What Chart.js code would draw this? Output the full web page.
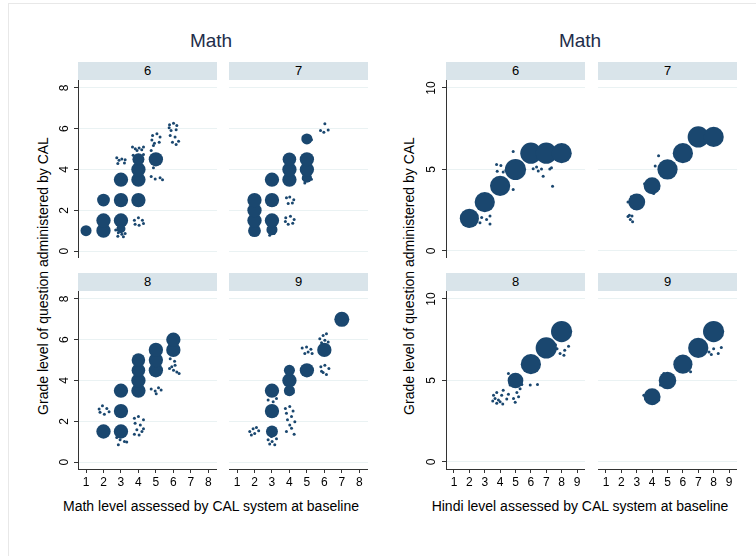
<!DOCTYPE html>
<html>
<head>
<meta charset="utf-8">
<script src="https://cdn.jsdelivr.net/npm/chart.js@4.4.1/dist/chart.umd.min.js"></script>
<style>
  body { margin: 0; background: #fff; font-family: "Liberation Sans", Arial, sans-serif; }
  #page { position: relative; width: 756px; height: 556px; overflow: hidden; }
  #frame { position: absolute; left: 8px; top: 3px; width: 800px; height: 600px; border: 1px solid #e8e8e8; }
  .title { position: absolute; font-size: 19px; color: #1e2d4a; transform: translate(-50%, -50%); white-space: nowrap; }
  .strip { position: absolute; background: #d9e4ea; height: 18px; line-height: 18px; text-align: center; font-size: 13px; color: #000; }
  .xt { position: absolute; font-size: 14px; color: #000; transform: translate(-50%, -50%); white-space: nowrap; }
  .yt { position: absolute; font-size: 14px; color: #000; transform: translate(-50%, -50%) rotate(-90deg); white-space: nowrap; }
  canvas { position: absolute; }
</style>
</head>
<body>
<div id="page"><div id="frame"></div></div>
<script>
// facets = grade of the student
const grades = ['6', '7', '8', '9'];

const mathXTicks = [1, 2, 3, 4, 5, 6, 7, 8];
const mathYTicks = [0, 2, 4, 6, 8];
const hindiXTicks = [1, 2, 3, 4, 5, 6, 7, 8, 9];
const hindiYTicks = [0, 5, 10];

// big markers: [baseline level, question grade, number of obs]
// small markers: [baseline level, question grade] (jittered obs)
const mathG6Big = [[1,1,12],[2,1,20],[2,1.5,20],[2,2.5,16],[3,1.5,20],[3,1.1,8],[3,2.5,20],[3,3.5,20],
  [4,2.5,20],[4,3.5,20],[4,4,20],[4,4.5,14],[5,4.5,20]];
const mathG6Small = [[2.76,4.58],[2.89,4.45],[3.05,4.52],[3.24,4.48],[3.2,4.32],[2.82,4.3],
  [3.66,5.1],[3.82,5.02],[4.04,5.05],[4.19,4.97],[3.92,4.93],[4.29,5.1],[3.7,4.7],[4.29,4.74],
  [4.81,5.67],[5.06,5.75],[5.24,5.59],[5.19,5.34],[4.92,5.29],[4.77,5.45],[4.86,5.18],[4.73,4.93],
  [4.73,3.66],[4.96,3.53],[5.24,3.6],[5.38,3.5],[4.86,4.09],
  [5.78,6.2],[6.01,6.27],[6.2,6.16],[6.16,5.95],[5.87,5.91],[5.76,6.05],
  [5.82,5.67],[6.1,5.59],[6.3,5.39],[5.95,5.34],[6.16,5.23],
  [3.77,1.51],[4.0,1.63],[4.23,1.51],[4.29,1.35],[4.04,1.27],[3.81,1.32],
  [2.7,1.03],[2.85,0.9],[3.05,0.83],[3.24,0.86],[2.82,0.73],[3.14,0.7]];

const mathG7Big = [[2,1,16],[2,1.5,20],[2,2,20],[2,2.5,20],[3,1.05,12],[3,1.5,20],[3,2.5,20],[3,3.5,20],
  [4,3.5,20],[4,4,20],[4,4.5,18],[5,3.6,10],[5,4,20],[5,4.5,20],[5,5.5,12]];
const mathG7Small = [[3.83,2.62],[4.02,2.65],[4.25,2.52],[4.17,2.36],[3.93,2.33],
  [3.79,1.64],[4.06,1.71],[4.27,1.55],[4.19,1.36],[3.93,1.32],[3.77,1.45],
  [4.79,3.55],[5.03,3.47],[5.26,3.52],[4.88,3.34],
  [6.03,6.24],[5.78,5.91],[5.97,5.83],[6.22,5.94],
  [1.82,0.83],[2.11,0.86],[2.87,0.78],[3.12,0.86],[4.79,5.59],[5.26,5.46]];

const mathG8Big = [[2,1.5,20],[3,1.5,20],[3,2.5,20],[3,3.5,20],[4,3.5,20],[4,4,20],[4,4.5,18],[4,5,18],
  [5,4.5,20],[5,5,20],[5,5.5,20],[6,5.5,20],[6,6,20]];
const mathG8Small = [[1.75,2.6],[1.94,2.76],[2.19,2.63],[2.32,2.47],[2.05,2.34],[1.8,2.44],
  [2.76,1.2],[2.95,1.09],[3.2,1.01],[2.85,0.85],[3.33,0.98],[3.05,1.3],
  [3.77,2.15],[4.0,2.23],[4.29,2.07],[3.81,1.9],[4.11,1.82],[3.91,1.58],[4.2,1.5],[3.77,1.37],[4.04,1.33],[4.29,1.63],
  [4.73,3.58],[4.96,3.48],[5.15,3.64],[5.3,3.53],[5.02,3.35],
  [5.82,5.07],[6.07,4.94],[5.91,4.67],[6.1,4.75],[5.78,4.59],[6.2,4.42],[6.33,4.34],[6.01,4.5]];

const mathG9Big = [[7,7,22],[6,5.5,20],[5,4.5,20],[4,4,20],[4,4.5,12],[4,3.5,12],[3,3.5,20],[3,2.5,20],[3,1.5,14]];
const mathG9Small = [[1.73,1.5],[1.92,1.63],[2.11,1.69],[2.24,1.53],[1.82,1.33],[2.01,1.4],
  [2.78,1.09],[3.01,1.01],[3.16,0.85],[2.87,0.88],[3.26,1.14],[2.97,1.25],
  [2.78,3.04],[3.07,2.96],[3.26,3.12],
  [3.77,2.63],[4.02,2.72],[4.21,2.5],[3.83,2.39],[4.12,2.23],[3.89,2.07],[4.31,1.98],[4.02,1.82],[3.83,1.5],[4.27,1.37],[4.12,1.66],
  [3.83,3.37],[4.21,3.41],
  [4.73,5.59],[4.98,5.64],[5.23,5.53],[5.3,5.32],[4.88,5.32],[5.07,5.4],
  [5.8,4.67],[6.03,4.75],[6.26,4.59],[5.93,4.39],[6.12,4.29],[5.84,4.46],
  [5.74,6.05],[5.93,6.21],[6.12,6.29],[6.03,5.97],[5.84,5.85],[6.22,5.89]];

const hindiG6Big = [[2,2,36],[3,3,40],[4,4,40],[5,5,44],[6,6,44],[7,6,44],[8,6,40]];
const hindiG6Small = [[4.85,6.11],[3.77,5.3],[4.05,5.25],[3.81,4.89],[4.2,4.85],[4.38,4.95],[4.85,3.77],
  [2.8,2.06],[3.12,1.93],[3.34,2.14],[3.34,1.65],[2.69,1.73],
  [6.15,5.05],[6.37,5.15],[6.48,4.91],[6.69,5.03],[6.8,4.58],[7.23,5.03],[7.34,5.11],[7.41,3.97],
  [1.93,1.53],[2.15,1.65]];

const hindiG7Big = [[3,3,28],[4,4,28],[5,5,40],[6,6,40],[7,7,44],[8,7,40]];
const hindiG7Small = [[4.42,5.85],[4.2,5.21],
  [2.43,2.12],[2.58,1.93],[2.69,2.14],[2.73,1.79],[2.52,2.2],
  [2.43,3.01],[3.34,2.87],[2.86,2.61],[3.12,3.28],[2.65,3.32],[3.34,3.16],
  [3.51,4.13],[3.66,3.77],[4.38,4.09],[4.42,3.83],[4.1,3.52],[3.88,4.38],[4.2,4.34]];

const hindiG8Big = [[5,5,24],[6,6,40],[7,7,44],[8,8,44]];
const hindiG8Small = [[3.57,4.1],[3.67,3.9],[3.78,4.27],[3.89,3.8],[4.1,4.1],[4.2,4.4],[4.0,3.7],[4.17,3.56],
  [4.43,3.86],[4.54,4.15],[3.78,3.6],[3.52,3.74],[4.87,3.9],[5.09,4.27],[5.2,4.0],[4.98,3.66],[5.3,4.5],
  [5.96,4.72],[6.43,4.76],
  [7.7,6.95],[7.9,6.65],[8.2,6.85],[8.45,7.1],[8.15,6.55],[7.6,7.2],
  [4.54,5.43],[5.3,5.22],[4.65,4.72],[5.41,4.76]];

const hindiG9Big = [[4,4,28],[5,5,30],[6,6,36],[7,7,40],[8,8,44]];
const hindiG9Small = [[7.7,6.75],[8.0,6.95],[8.3,6.65],[8.5,7.03],[7.85,6.6],
  [3.46,4.1],[3.57,3.9],[4.43,3.8],[4.1,3.6],[4.76,5.43],[5.3,4.72],[4.54,4.72],[5.96,6.44],[6.5,5.53]];

const navy = '#1a476f';
const font = '"Liberation Sans", Arial, sans-serif';
const page = document.getElementById('page');

function addDiv(cls, text, x, y, w) {
  const d = document.createElement('div');
  d.className = cls;
  d.textContent = text;
  d.style.left = x + 'px';
  d.style.top = y + 'px';
  if (w) d.style.width = w + 'px';
  page.appendChild(d);
}

const panels = [
  { cols: [78, 229], center: 211, yTitleX: 43, xRange: [0.54, 8.5], yRange: [-0.34, 8.39],
    xTicks: mathXTicks, yTicks: mathYTicks, labPad: 5.5,
    big: [mathG6Big, mathG7Big, mathG8Big, mathG9Big],
    small: [mathG6Small, mathG7Small, mathG8Small, mathG9Small],
    xTitle: 'Math level assessed by CAL system at baseline' },
  { cols: [446, 598], center: 580, yTitleX: 409, xRange: [0.48, 9.52], yRange: [-0.43, 10.49],
    xTicks: hindiXTicks, yTicks: hindiYTicks, labPad: 4,
    big: [hindiG6Big, hindiG7Big, hindiG8Big, hindiG9Big],
    small: [hindiG6Small, hindiG7Small, hindiG8Small, hindiG9Small],
    xTitle: 'Hindi level assessed by CAL system at baseline' }
];
const rows = [80, 291];
const plotW = 139, plotH = 178, yAxisW = 30, xAxisH = 24;

panels.forEach(p => {
  addDiv('title', 'Math', p.center, 41);
  addDiv('xt', p.xTitle, p.center, 506);
  addDiv('yt', 'Grade level of question administered by CAL', p.yTitleX, 276);

  grades.forEach((g, i) => {
    const col = i % 2, row = Math.floor(i / 2);
    const hasY = col === 0, hasX = row === 1;
    const left = p.cols[col], top = rows[row];
    addDiv('strip', g, left, top - 18, plotW);

    const cv = document.createElement('canvas');
    cv.width = plotW + (hasY ? yAxisW : 0);
    cv.height = plotH + (hasX ? xAxisH : 0);
    cv.style.left = (left - (hasY ? yAxisW : 0)) + 'px';
    cv.style.top = top + 'px';
    page.appendChild(cv);

    new Chart(cv, {
      type: 'scatter',
      data: {
        datasets: [{
          data: p.big[i].map(d => ({ x: d[0], y: d[1], n: d[2] })),
          backgroundColor: navy, borderWidth: 0,
          pointRadius: ctx => 1.6 * Math.sqrt(ctx.raw.n)
        }, {
          data: p.small[i].map(d => ({ x: d[0], y: d[1] })),
          backgroundColor: navy, borderWidth: 0, pointRadius: 1.5
        }]
      },
      options: {
        responsive: false, animation: false,
        layout: { padding: 0, autoPadding: false },
        plugins: { legend: { display: false }, tooltip: { enabled: false } },
        scales: {
          x: {
            type: 'linear', min: p.xRange[0], max: p.xRange[1], display: hasX,
            afterBuildTicks: s => { s.ticks = p.xTicks.map(v => ({ value: v })); },
            afterFit: s => { s.height = hasX ? xAxisH : 0; s.paddingLeft = 0; s.paddingRight = 0; },
            grid: { drawOnChartArea: false, tickLength: 4, tickColor: '#333' },
            border: { color: '#333' },
            ticks: { font: { size: 12, family: font }, color: '#000', padding: 2, minRotation: 0, maxRotation: 0 }
          },
          y: {
            type: 'linear', min: p.yRange[0], max: p.yRange[1],
            afterBuildTicks: s => { s.ticks = p.yTicks.map(v => ({ value: v })); },
            afterFit: s => { s.width = hasY ? yAxisW : 0; s.paddingTop = 0; s.paddingBottom = 0; },
            grid: { color: '#eaf2f3', tickLength: 4, tickColor: '#333', drawTicks: hasY },
            border: { display: hasY, color: '#333' },
            ticks: { display: hasY, font: { size: 12, family: font }, color: '#000',
                     minRotation: 90, maxRotation: 90, crossAlign: 'center', padding: p.labPad }
          }
        }
      }
    });
  });
});
</script>
</body>
</html>
